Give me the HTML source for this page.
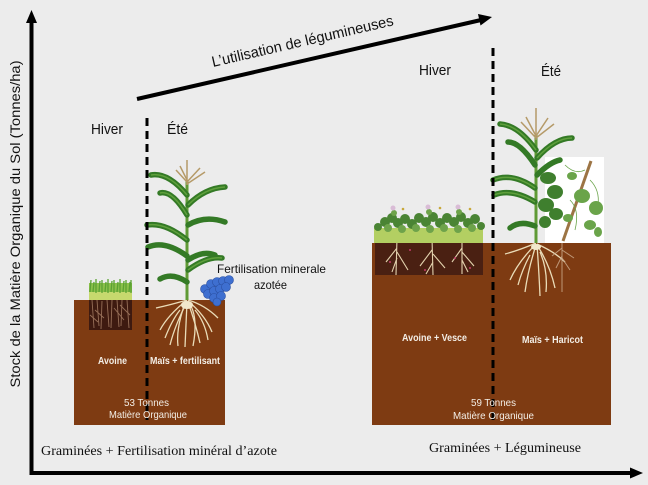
<!DOCTYPE html>
<html><head><meta charset="utf-8"><style>
html,body{margin:0;padding:0;background:#ececec;}
svg{display:block;}
</style></head><body>
<svg width="648" height="485" viewBox="0 0 648 485" xmlns="http://www.w3.org/2000/svg">
<rect width="648" height="485" fill="#ececec"/>

<!-- Axes -->
<line x1="31.5" y1="22" x2="31.5" y2="474" stroke="#000" stroke-width="4"/>
<polygon points="31.5,10 26,23 37,23" fill="#000"/>
<line x1="29.5" y1="473" x2="632" y2="473" stroke="#000" stroke-width="4"/>
<polygon points="643,473 630,467.5 630,478.5" fill="#000"/>

<!-- Y label -->
<text transform="translate(20,224) rotate(-90)" text-anchor="middle" font-family="Liberation Sans, sans-serif" font-size="13.5" fill="#111" textLength="327" lengthAdjust="spacingAndGlyphs">Stock de la Matière Organique du Sol (Tonnes/ha)</text>

<!-- Diagonal arrow -->
<line x1="137" y1="99" x2="481" y2="20" stroke="#000" stroke-width="4"/>
<polygon points="492,17 480.5,25.5 478,14" fill="#000"/>
<text transform="translate(213,67) rotate(-13)" font-family="Liberation Sans, sans-serif" font-size="15" fill="#111" textLength="186" lengthAdjust="spacingAndGlyphs">L’utilisation de légumineuses</text>

<!-- Season labels -->
<text x="91" y="134" font-family="Liberation Sans, sans-serif" font-size="15" fill="#111" textLength="32" lengthAdjust="spacingAndGlyphs">Hiver</text>
<text x="167" y="134" font-family="Liberation Sans, sans-serif" font-size="15" fill="#111" textLength="21" lengthAdjust="spacingAndGlyphs">Été</text>
<text x="419" y="75" font-family="Liberation Sans, sans-serif" font-size="15" fill="#111" textLength="32" lengthAdjust="spacingAndGlyphs">Hiver</text>
<text x="541" y="76" font-family="Liberation Sans, sans-serif" font-size="15" fill="#111" textLength="20" lengthAdjust="spacingAndGlyphs">Été</text>

<!-- Brown boxes -->
<rect x="74" y="300" width="151" height="125" fill="#7e3b12"/>
<rect x="372" y="243" width="239" height="182" fill="#7e3b12"/>

<!-- LEFT: grass patch -->
<rect x="89" y="300" width="43" height="30" fill="#3e1a10"/>
<g stroke="#b58c70" stroke-width="0.9" opacity="0.75">
<path d="M92 300 L94 328 M97 300 L99 326 M102 301 L101 329 M107 300 L109 327 M112 300 L111 328 M117 300 L119 327 M122 300 L121 326 M127 300 L129 328 M95 310 L104 318 M114 308 L124 320 M90 315 L98 322 M120 305 L130 315"/>
</g>
<rect x="89" y="283" width="43" height="17" fill="#8cc04a"/>
<rect x="89" y="292" width="43" height="8" fill="#c6d96e"/>
<g stroke="#5aa232" stroke-width="1.3">
<path d="M90 292 L91 280 M93 292 L94 282 M96 293 L96 279 M99 292 L100 281 M102 293 L102 280 M105 292 L106 282 M108 293 L108 279 M111 292 L112 281 M114 293 L114 280 M117 292 L118 282 M120 293 L120 279 M123 292 L124 281 M126 293 L126 280 M129 292 L130 282 M131 293 L131 280"/>
</g>

<!-- LEFT: corn roots -->
<g stroke="#eadcb8" stroke-width="1.3" fill="none">
<path d="M187 300 Q170 305 156 308"/>
<path d="M187 300 Q168 315 160 330"/>
<path d="M187 302 Q175 325 170 345"/>
<path d="M187 302 Q186 325 185 347"/>
<path d="M188 302 Q196 325 200 343"/>
<path d="M188 301 Q205 315 212 332"/>
<path d="M188 300 Q205 305 218 318"/>
<path d="M180 310 Q172 320 165 338"/>
<path d="M195 310 Q205 322 208 340"/>
<path d="M184 306 Q176 330 178 346"/>
<path d="M191 306 Q198 320 193 346"/>
</g>
<ellipse cx="187" cy="305" rx="6" ry="4" fill="#f2e8cc"/>

<!-- LEFT: corn plant -->
<line x1="187" y1="300" x2="187" y2="180" stroke="#5f9a35" stroke-width="3"/>
<g stroke="#b59a68" stroke-width="1.5" fill="none">
<path d="M187 185 L187 160"/><path d="M187 182 L176 170"/><path d="M187 180 L180 166"/><path d="M187 182 L200 168"/><path d="M187 184 L205 172"/>
</g>
<g stroke="#347a26" stroke-width="5.5" fill="none" stroke-linecap="round">
<path d="M187 195 Q168 172 151 175"/>
<path d="M188 205 Q205 188 225 187"/>
<path d="M187 215 Q172 190 160 193"/>
<path d="M188 225 Q205 215 225 222"/>
<path d="M187 240 Q165 222 147 225"/>
<path d="M187 256 Q165 240 148 247"/>
<path d="M188 260 Q203 250 215 255"/>
<path d="M188 270 Q207 256 222 258"/>
<path d="M187 282 Q172 272 160 279"/>
</g>
<g stroke="#5fa03c" stroke-width="1.5" fill="none">
<path d="M187 195 Q168 172 151 175"/>
<path d="M188 205 Q205 188 225 187"/>
<path d="M187 240 Q165 222 147 225"/>
<path d="M188 270 Q207 256 222 258"/>
<path d="M187 215 Q172 190 160 193"/>
</g>

<!-- blue fertilizer -->
<g fill="#3e6fd0" stroke="#2a4fa0" stroke-width="0.6">
<circle cx="205" cy="289" r="4.5"/><circle cx="211" cy="284" r="4.5"/><circle cx="217" cy="282" r="4.5"/><circle cx="223" cy="281" r="4.5"/><circle cx="229" cy="280" r="4.5"/>
<circle cx="208" cy="294" r="4.5"/><circle cx="214" cy="291" r="4.5"/><circle cx="220" cy="289" r="4.5"/><circle cx="226" cy="287" r="4.5"/>
<circle cx="214" cy="298" r="4.5"/><circle cx="221" cy="296" r="4.5"/><circle cx="217" cy="302" r="4"/>
</g>

<text x="217" y="273" font-family="Liberation Sans, sans-serif" font-size="12" fill="#111" textLength="109" lengthAdjust="spacingAndGlyphs">Fertilisation minerale</text>
<text x="254" y="289" font-family="Liberation Sans, sans-serif" font-size="12" fill="#111" textLength="33" lengthAdjust="spacingAndGlyphs">azotée</text>

<!-- RIGHT: cover crop -->
<rect x="375" y="243" width="108" height="32" fill="#4a2012"/>
<g stroke="#e3d2ae" stroke-width="1.1" fill="none">
<path d="M397 238 L396 275 M397 248 L386 262 M397 252 L408 270 M397 258 L392 272"/>
<path d="M432 238 L433 275 M432 250 L420 266 M433 254 L445 268 M433 262 L426 274"/>
<path d="M462 238 L462 274 M462 248 L452 262 M462 252 L474 266 M462 260 L468 272"/>
</g>
<g fill="#c23a6a"><circle cx="390" cy="262" r="1"/><circle cx="425" cy="270" r="1"/><circle cx="455" cy="258" r="1"/><circle cx="470" cy="268" r="1"/><circle cx="410" cy="250" r="1"/></g>
<rect x="374" y="228" width="109" height="15" fill="#b3cf62"/>
<g fill="#4a8434">
<circle cx="378" cy="227" r="4"/><circle cx="385" cy="222" r="5"/><circle cx="392" cy="218" r="5"/><circle cx="398" cy="223" r="5"/><circle cx="405" cy="219" r="5"/><circle cx="412" cy="224" r="5"/><circle cx="419" cy="218" r="5"/><circle cx="426" cy="222" r="5"/><circle cx="433" cy="217" r="5"/><circle cx="440" cy="223" r="5"/><circle cx="447" cy="218" r="5"/><circle cx="454" cy="222" r="5"/><circle cx="461" cy="217" r="5"/><circle cx="468" cy="223" r="5"/><circle cx="475" cy="219" r="5"/><circle cx="481" cy="226" r="4"/>
</g>
<g fill="#6ea34a">
<circle cx="388" cy="228" r="4"/><circle cx="402" cy="229" r="4"/><circle cx="416" cy="228" r="4"/><circle cx="430" cy="229" r="4"/><circle cx="444" cy="228" r="4"/><circle cx="458" cy="229" r="4"/><circle cx="472" cy="228" r="4"/>
<circle cx="394" cy="213" r="3"/><circle cx="429" cy="212" r="3"/><circle cx="459" cy="212" r="3"/>
</g>
<g fill="#d9bcd6"><circle cx="393" cy="208" r="2.5"/><circle cx="428" cy="207" r="2.5"/><circle cx="458" cy="207" r="2.5"/></g>
<g fill="#c8a83a"><circle cx="403" cy="209" r="1.3"/><circle cx="440" cy="208" r="1.3"/><circle cx="470" cy="209" r="1.3"/></g>

<!-- RIGHT: bean white panel -->
<rect x="545" y="157" width="59" height="86" fill="#ffffff"/>

<!-- RIGHT: roots -->
<g stroke="#eadcb8" stroke-width="1.3" fill="none">
<path d="M536 243 Q520 250 505 254"/>
<path d="M536 244 Q518 262 510 280"/>
<path d="M536 245 Q528 270 525 292"/>
<path d="M537 245 Q539 272 540 296"/>
<path d="M537 245 Q550 265 555 288"/>
<path d="M537 244 Q555 252 565 262"/>
<path d="M530 255 Q522 270 518 285"/>
<path d="M540 252 Q548 270 546 292"/>
</g>
<ellipse cx="536" cy="247" rx="5" ry="3" fill="#f2e8cc"/>
<g stroke="#c9a88a" stroke-width="1" fill="none" opacity="0.85">
<path d="M562 243 L562 292 M562 248 L552 256 M562 250 L574 258 M562 256 L556 268 M562 258 L570 270"/>
</g>

<!-- RIGHT: corn plant -->
<line x1="536" y1="243" x2="536" y2="135" stroke="#5f9a35" stroke-width="3"/>
<g stroke="#b59a68" stroke-width="1.5" fill="none">
<path d="M536 140 L536 108"/><path d="M536 138 L521 122"/><path d="M536 136 L526 117"/><path d="M536 136 L548 118"/><path d="M536 138 L554 124"/>
</g>
<g stroke="#347a26" stroke-width="5.5" fill="none" stroke-linecap="round">
<path d="M536 150 Q518 125 500 124"/>
<path d="M537 158 Q555 138 572 138"/>
<path d="M535 165 Q520 142 508 142"/>
<path d="M537 175 Q550 162 560 160"/>
<path d="M535 188 Q512 172 493 180"/>
<path d="M535 202 Q512 188 494 195"/>
<path d="M535 226 Q520 220 510 228"/>
</g>
<g stroke="#5fa03c" stroke-width="1.5" fill="none">
<path d="M536 150 Q518 125 500 124"/>
<path d="M535 188 Q512 172 493 180"/>
<path d="M535 202 Q512 188 494 195"/>
<path d="M537 158 Q555 138 572 138"/>
</g>

<!-- bean -->
<line x1="563" y1="241" x2="591" y2="161" stroke="#9c7444" stroke-width="3"/>
<g fill="#3f7f2e">
<ellipse cx="548" cy="178" rx="8" ry="6"/><ellipse cx="555" cy="192" rx="8" ry="7"/><ellipse cx="546" cy="205" rx="8" ry="7"/><ellipse cx="556" cy="214" rx="7" ry="6"/><ellipse cx="545" cy="222" rx="6" ry="6"/>
</g>
<g fill="#6aa44a">
<ellipse cx="582" cy="196" rx="8" ry="7"/><ellipse cx="596" cy="208" rx="7" ry="7"/><ellipse cx="590" cy="225" rx="6" ry="5"/><ellipse cx="572" cy="176" rx="5" ry="4"/><ellipse cx="598" cy="232" rx="4" ry="5"/><ellipse cx="568" cy="218" rx="5" ry="4"/>
</g>
<g stroke="#6aa44a" stroke-width="0.8" fill="none">
<path d="M565 165 Q575 175 585 170 M570 200 Q580 210 575 230 M590 180 Q600 190 598 205"/>
</g>

<!-- Dashed lines -->
<line x1="147" y1="118" x2="147" y2="420" stroke="#000" stroke-width="3" stroke-dasharray="8,5"/>
<line x1="493" y1="48" x2="493" y2="422" stroke="#000" stroke-width="3" stroke-dasharray="8,5"/>

<!-- Box labels -->
<g font-family="Liberation Sans, sans-serif" fill="#f3eee6">
<text x="98" y="364" font-size="10.5" font-weight="bold" textLength="29" lengthAdjust="spacingAndGlyphs">Avoine</text>
<text x="150" y="364" font-size="10.5" font-weight="bold" textLength="70" lengthAdjust="spacingAndGlyphs">Maïs + fertilisant</text>
<text x="124" y="406" font-size="10.5" textLength="45" lengthAdjust="spacingAndGlyphs">53 Tonnes</text>
<text x="109" y="418" font-size="10.5" textLength="78" lengthAdjust="spacingAndGlyphs">Matière Organique</text>
<text x="402" y="341" font-size="10.5" font-weight="bold" textLength="65" lengthAdjust="spacingAndGlyphs">Avoine + Vesce</text>
<text x="522" y="343" font-size="10.5" font-weight="bold" textLength="61" lengthAdjust="spacingAndGlyphs">Maïs + Haricot</text>
<text x="471" y="406" font-size="10.5" textLength="45" lengthAdjust="spacingAndGlyphs">59 Tonnes</text>
<text x="453" y="419" font-size="10.5" textLength="81" lengthAdjust="spacingAndGlyphs">Matière Organique</text>
</g>

<!-- Bottom labels -->
<text x="41" y="455" font-family="Liberation Serif, serif" font-size="14" fill="#111" textLength="236" lengthAdjust="spacingAndGlyphs">Graminées + Fertilisation minéral d’azote</text>
<text x="429" y="452" font-family="Liberation Serif, serif" font-size="14" fill="#111" textLength="152" lengthAdjust="spacingAndGlyphs">Graminées + Légumineuse</text>
</svg>
</body></html>
